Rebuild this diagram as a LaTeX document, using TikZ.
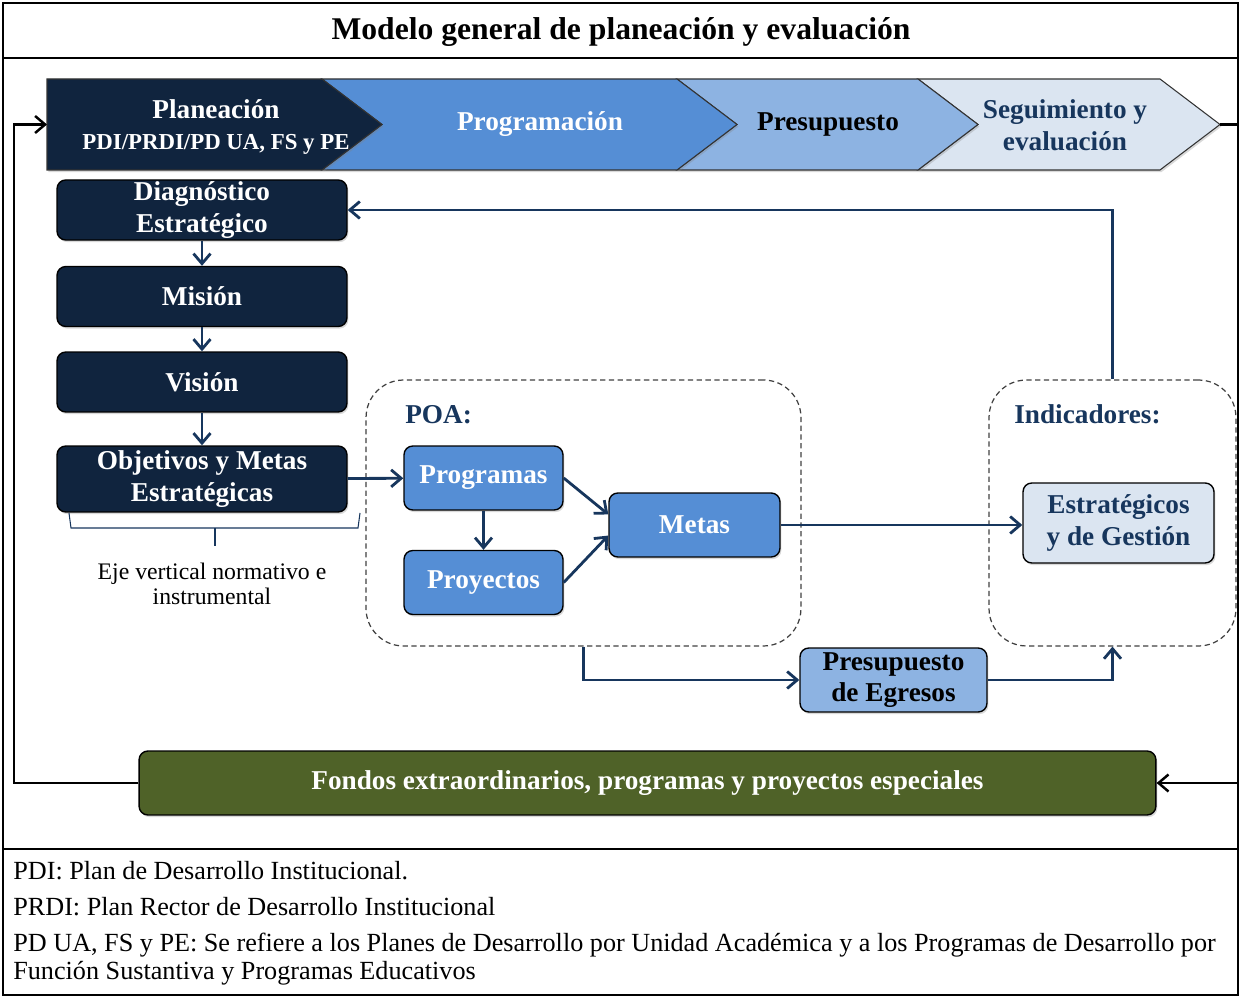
\documentclass[tikz,border=0pt]{standalone}
\usepackage{fontspec}
\setmainfont{Liberation Serif}
\usetikzlibrary{arrows.meta,positioning,shadows}
\definecolor{pnavy}{HTML}{10243E}
\definecolor{pmid}{HTML}{558ED5}
\definecolor{plight}{HTML}{8DB3E2}
\definecolor{ppale}{HTML}{DBE5F1}
\definecolor{pline}{HTML}{17365D}
\definecolor{pgreen}{HTML}{4F6228}

\begin{document}
\begin{tikzpicture}[x=0.02cm,y=-0.02cm,
  font=\fontsize{15.5}{18}\selectfont\bfseries,
  shd/.style={drop shadow={opacity=0.3,shadow xshift=0.8pt,shadow yshift=-1.2pt}},
  chev/.style={draw=black!80,line width=0.6pt,shd},
  nb/.style={draw=black,thick,fill=pnavy,text=white,rounded corners=5pt,shd,
             minimum width=5.8cm,minimum height=1.2cm,align=center,inner sep=1pt},
  mb/.style={draw=black,thick,fill=pmid,text=white,rounded corners=5pt,shd,
             minimum width=3.18cm,minimum height=1.28cm,align=center,inner sep=1pt},
  lb/.style={draw=black,thick,fill=plight,rounded corners=5pt,shd,
             minimum width=3.74cm,minimum height=1.28cm,align=center,inner sep=1pt},
  pb/.style={draw=black,thick,fill=ppale,text=pline,rounded corners=5pt,shd,
             minimum width=3.82cm,minimum height=1.6cm,align=center,inner sep=1pt},
  gb/.style={draw=black,thick,fill=pgreen,text=white,rounded corners=5pt,shd,
             minimum width=20.34cm,minimum height=1.28cm,align=center,inner sep=1pt},
  grp/.style={draw=black!75,line width=0.7pt,dash pattern=on 3pt off 2pt,
              rounded corners=0.75cm},
  lbl/.style={anchor=west,text=pline,inner sep=0pt},
  fn/.style={anchor=west,inner sep=0pt,align=left,
             font=\fontsize{14.9}{16}\selectfont\mdseries},
  a/.style={-{Straight Barb[length=2mm,width=3.4mm]},draw=pline,line width=1.6pt},
  lp/.style={-{Straight Barb[length=2mm,width=3.4mm]},draw=black,line width=1.4pt}]
\useasboundingbox (0,0) rectangle (1241,996);

% frame and title
\draw[line width=1.3pt] (3,3) rectangle (1238,995);
\draw[line width=1.1pt] (3,58) -- (1238,58);
\draw[line width=1.3pt] (3,849) -- (1238,849);
\node[font=\fontsize{18}{20}\selectfont\bfseries] (title) at (621,32)
  {Modelo general de planeación y evaluación};

% phases along the top
\foreach \xa/\xb/\col in {918/1160/ppale,677/918/plight,322/677/pmid}
  \filldraw[chev,fill=\col] (\xa,79) -- (\xb,79) -- (\xb+60,124.5) -- (\xb,170)
    -- (\xa,170) -- (\xa+60,124.5) -- cycle;
\filldraw[chev,fill=pnavy] (47,79) -- (322,79) -- (382,124.5) -- (322,170)
  -- (47,170) -- cycle;
\node[text=white,align=center] (plan) at (216,127)
  {Planeación\\{\fontsize{13}{15}\selectfont PDI/PRDI/PD UA, FS y PE}};
\node[text=white] (progr) at (540,124) {Programación};
\node (presu) at (828,124) {Presupuesto};
\node[text=pline,align=center] (segui) at (1065,125) {Seguimiento y\\evaluación};
\coordinate (planin) at (47,124.5);
\coordinate (segtip) at (1220,124.5);

% vertical axis
\node[nb] (diag) at (202,210) {Diagnóstico\\Estratégico};
\node[nb] (mis)  at (202,296.5) {Misión};
\node[nb] (vis)  at (202,382)   {Visión};
\node[nb,minimum height=1.32cm] (obj) at (202,479) {Objetivos y Metas\\Estratégicas};
\draw[a] (diag) -- (mis);
\draw[a] (mis) -- (vis);
\draw[a] (vis) -- (obj);
\draw[pline,line width=0.6pt] (69,513) -- (71,528) -- (358,528) -- (360,513);
\draw[pline,line width=0.6pt] (215,528) -- (215,546);
\node[font=\fontsize{13.5}{14.5}\selectfont\mdseries,align=center] (eje) at (212,584)
  {Eje vertical normativo e\\instrumental};

% POA
\node[grp,minimum width=8.7cm,minimum height=5.32cm] (poa) at (583.5,513) {};
\node[lbl] (poat) at (405,415) {POA:};
\node[mb] (prog) at (483.5,478) {Programas};
\node[mb] (proy) at (483.5,582.5) {Proyectos};
\node[mb,minimum width=3.42cm] (metas) at (694.5,525) {Metas};
\draw[a] (obj) -- (prog);
\draw[a] (prog) -- (proy);
\draw[a] (prog.east) -- (metas.173);
\draw[a] (proy.east) -- (metas.187);

% indicators
\node[grp,minimum width=4.94cm,minimum height=5.32cm] (ind) at (1112.5,513) {};
\node[lbl] (indt) at (1014,414) {Indicadores:};
\node[pb] (est) at (1118.5,523) {Estratégicos\\y de Gestión};
\draw[a] (metas.east) -- (metas.east -| est.west);
\draw[a] (ind.north) |- (diag.east);

\node[lb] (egr) at (893.5,680) {Presupuesto\\de Egresos};
\draw[a] (poa.south) |- (egr.west);
\draw[a] (egr.east) -| (ind.south);

% return loop through the special funds
\node[gb] (fondos) at (647.5,783)
  {Fondos extraordinarios, programas y proyectos especiales};
\coordinate (rc) at (1238,124.5);
\coordinate (lc) at (14,783);
\draw[lp] (segtip) -- (rc) |- (fondos.east);
\draw[lp] (fondos.west) -- (lc) |- (planin);

% notes
\node[fn] (fn1) at (13,871) {PDI: Plan de Desarrollo Institucional.};
\node[fn] (fn2) at (13,907) {PRDI: Plan Rector de Desarrollo Institucional};
\node[fn] (fn3) at (13,959) {PD UA, FS y PE: Se refiere a los Planes de Desarrollo
  por Unidad Académica y a los Programas de Desarrollo por\\Función Sustantiva y
  Programas Educativos};
\end{tikzpicture}
\end{document}
